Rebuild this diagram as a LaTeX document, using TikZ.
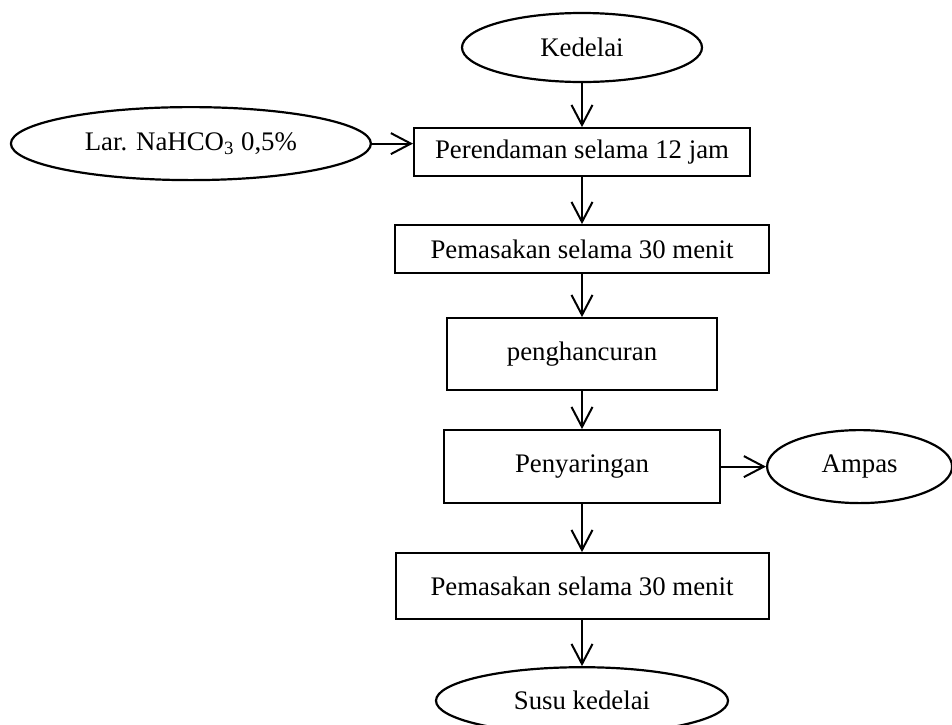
\documentclass[tikz,border=0pt]{standalone}
\usepackage{fontspec}
\setmainfont{Liberation Serif}
\usetikzlibrary{arrows.meta,positioning,shapes.geometric}
\tikzset{
  flowarr/.style={-{Straight Barb[length=10pt,width=10.5pt]}, line width=1pt},
  flowbox/.style={draw, rectangle, line width=1pt, align=center, inner sep=2pt},
  flowterm/.style={draw, ellipse, line width=1.1pt, align=center, inner sep=1pt},
}
\begin{document}
\begin{tikzpicture}[
  font=\fontsize{13.4pt}{16pt}\selectfont,
  box/.style={flowbox, minimum height=24pt},
  term/.style={flowterm, minimum height=36.5pt},
]
  \useasboundingbox (0pt,0pt) rectangle (476pt,-362pt);
  \node[term, minimum width=120pt, minimum height=34.5pt] (ked) at (291pt,-23.75pt) {Kedelai};
  \node[box, minimum width=168pt, below=22pt of ked] (rend) {Perendaman selama 12 jam};
  \node[box, minimum width=187pt, below=23.5pt of rend] (mas1) {Pemasakan selama 30 menit};
  \node[box, minimum width=135pt, minimum height=36pt, below=21.5pt of mas1] (hanc) {penghancuran};
  \node[box, minimum width=138pt, minimum height=36.5pt, below=19pt of hanc] (sar) {Penyaringan};
  \node[box, minimum width=186.5pt, minimum height=33pt, below=24pt of sar] (mas2) {Pemasakan selama 30 menit};
  \node[term, minimum width=146pt, minimum height=33.5pt, below=23pt of mas2] (susu) {Susu kedelai};
  \node[term, minimum width=180pt, left=20.5pt of rend, yshift=4.25pt] (lar) {Lar. NaHCO\textsubscript{3} 0,5\%};
  \node[term, minimum width=92.5pt, right=22.5pt of sar] (amp) {Ampas};
  \foreach \a/\b in {ked/rend,rend/mas1,mas1/hanc,hanc/sar,sar/mas2,mas2/susu,sar/amp}
    \draw[flowarr] (\a) -- (\b);
  \draw[flowarr] (lar) -- (lar -| rend.west);
\end{tikzpicture}
\end{document}
